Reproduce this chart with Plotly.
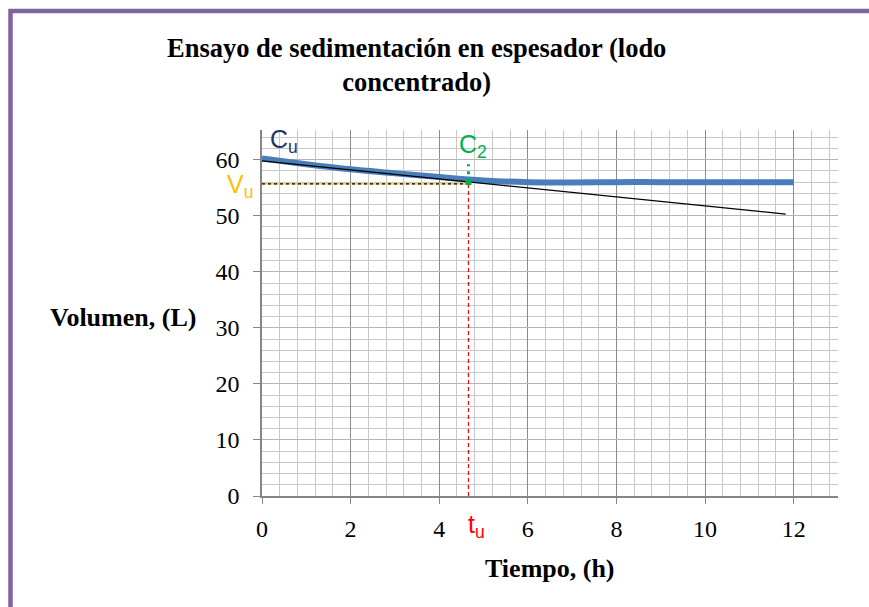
import plotly.graph_objects as go

# Data
tiempo = [0, 1, 2, 3, 4, 5, 6, 7, 8, 9, 10, 11, 12]
volumen = [60.2, 59.2, 58.3, 57.6, 56.9, 56.3, 56.0, 55.95, 56.0, 56.0, 56.0, 56.0, 56.0]
tangente_x = [0, 11.82]
tangente_y = [59.8, 50.3]
t_u = 4.66
V_u = 55.7
c2_seg_y = [56.0, 59.2]

x_ticks = [0, 2, 4, 6, 8, 10, 12]
y_ticks = [0, 10, 20, 30, 40, 50, 60]

fig = go.Figure()

fig.add_trace(go.Scatter(x=[0, t_u], y=[V_u, V_u], mode="lines",
                         line=dict(color="#FFC000", width=1.2), hoverinfo="skip", showlegend=False))
fig.add_trace(go.Scatter(x=[0, t_u], y=[V_u, V_u], mode="lines",
                         line=dict(color="black", width=1.2, dash="3px,3px"), hoverinfo="skip", showlegend=False))
fig.add_trace(go.Scatter(x=[t_u, t_u], y=[0, V_u], mode="lines",
                         line=dict(color="#FF0000", width=1.2, dash="4px,3px"), hoverinfo="skip", showlegend=False))
fig.add_trace(go.Scatter(x=tiempo, y=volumen, mode="lines", line=dict(color="#4A7EBB", width=6, shape="spline"),
                         hoverinfo="skip", showlegend=False))
fig.add_trace(go.Scatter(x=tangente_x, y=tangente_y, mode="lines", line=dict(color="black", width=1.2),
                         hoverinfo="skip", showlegend=False))
fig.add_trace(go.Scatter(x=[t_u, t_u], y=c2_seg_y, mode="lines",
                         line=dict(color="#00B050", width=3, dash="3px,5px"), hoverinfo="skip", showlegend=False))
fig.add_trace(go.Scatter(x=[t_u], y=[c2_seg_y[0]], mode="markers",
                         marker=dict(color="#00B050", size=6, symbol="square"), hoverinfo="skip", showlegend=False))

serif = "Liberation Serif"
sans = "Liberation Sans"

L, R, T, B = 262, 31, 130, 111
PW, PH = 869 - L - R, 607 - T - B


def px(xp):
    return (xp - L) / PW


def py(yp):
    return (607 - B - yp) / PH


annotations = [
    dict(text="<b>Ensayo de sedimentación en espesador (lodo<br>concentrado)</b>", xref="paper", yref="paper",
         x=px(416), y=py(65), xanchor="center", yanchor="middle", showarrow=False,
         font=dict(family=serif, size=26.5, color="black")),
    dict(text="<b>Volumen, (L)</b>", xref="paper", yref="paper", x=px(123), y=py(317),
         xanchor="center", yanchor="middle", showarrow=False, font=dict(family=serif, size=26, color="black")),
    dict(text="<b>Tiempo, (h)</b>", xref="paper", yref="paper", x=px(550), y=py(568),
         xanchor="center", yanchor="middle", showarrow=False, font=dict(family=serif, size=26, color="black")),
    dict(text="C<sub>u</sub>", xref="paper", yref="paper", x=px(284), y=py(141), xanchor="center", yanchor="middle",
         showarrow=False, font=dict(family=sans, size=25, color="#1F3864")),
    dict(text="V<sub>u</sub>", xref="paper", yref="paper", x=px(240), y=py(186), xanchor="center", yanchor="middle",
         showarrow=False, font=dict(family=sans, size=25, color="#FFC000")),
    dict(text="C<sub>2</sub>", xref="paper", yref="paper", x=px(473), y=py(146), xanchor="center", yanchor="middle",
         showarrow=False, font=dict(family=sans, size=25, color="#00B050")),
    dict(text="t<sub>u</sub>", xref="paper", yref="paper", x=px(476), y=py(526), xanchor="center", yanchor="middle",
         showarrow=False, font=dict(family=sans, size=25, color="#FF0000")),
]

shapes = [
    dict(type="rect", xref="paper", yref="paper",
         x0=px(10.5), x1=px(880), y0=py(620), y1=py(11),
         line=dict(color="#8064A2", width=4.5), fillcolor="rgba(0,0,0,0)", layer="below"),
]

fig.update_layout(
    width=869, height=607,
    margin=dict(l=L, r=R, t=T, b=B),
    paper_bgcolor="white", plot_bgcolor="white",
    annotations=annotations, shapes=shapes, showlegend=False,
    xaxis=dict(range=[0, 13], tickvals=x_ticks, ticktext=[str(v) for v in x_ticks],
               showgrid=True, gridcolor="#8C8C8C", gridwidth=1,
               minor=dict(dtick=0.4, tick0=0, showgrid=True, gridcolor="#C8C8C8", gridwidth=1),
               showline=True, linecolor="#868686", linewidth=1.5, zeroline=False,
               ticks="outside", ticklen=6, tickcolor="#868686", ticklabelstandoff=4,
               tickfont=dict(family=serif, size=24, color="black")),
    yaxis=dict(range=[0, 65.3], tickvals=y_ticks, ticktext=[str(v) for v in y_ticks],
               showgrid=True, gridcolor="#B4B4B4", gridwidth=1,
               minor=dict(dtick=2, tick0=0, showgrid=True, gridcolor="#C8C8C8", gridwidth=1),
               showline=True, linecolor="#868686", linewidth=1.5, zeroline=False,
               ticks="outside", ticklen=7, tickcolor="#868686", ticklabelstandoff=9,
               tickfont=dict(family=serif, size=24, color="black")),
)

fig.write_html("out.html", config={"displayModeBar": False},
               post_script="document.body.style.margin='0';document.body.style.overflow='hidden';")
